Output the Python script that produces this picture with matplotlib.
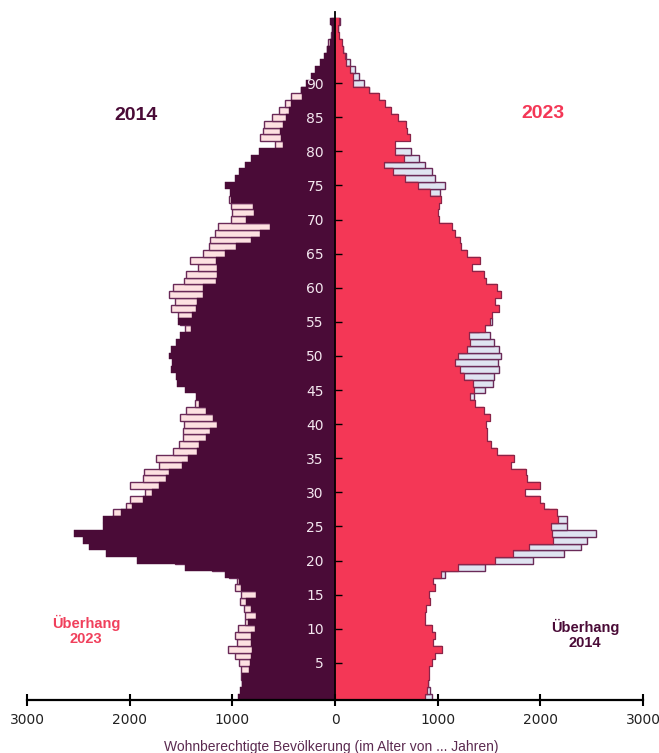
import matplotlib.pyplot as plt
import numpy as np

# Bevoelkerung nach Alter (0..99), 2014 links, 2023 rechts
ages = np.arange(0, 100)

pop_2014 = [
    945, 925, 905, 910, 840, 830, 820, 810, 815, 820,        # 0-9
    780, 850, 770, 820, 870, 765, 915, 935, 1070, 1460,      # 10-19
    1930, 2235, 2400, 2455, 2540, 2260, 2257, 2080, 1977, 1870,  # 20-29
    1778, 1717, 1650, 1618, 1488, 1436, 1344, 1324, 1255, 1214,  # 30-39
    1153, 1190, 1255, 1324, 1351, 1462, 1539, 1550, 1597, 1590,  # 40-49
    1620, 1595, 1546, 1505, 1402, 1529, 1395, 1351, 1340, 1289,  # 50-59
    1289, 1156, 1146, 1146, 1163, 1070, 964, 821, 728, 633,      # 60-69
    865, 793, 797, 1009, 1026, 1070, 975, 940, 880, 821,         # 70-79
    745, 503, 523, 535, 510, 480, 445, 425, 320, 330,            # 80-89
    280, 230, 190, 145, 110, 75, 50, 30, 25, 45,                 # 90-99
]

pop_2023 = [
    872, 900, 905, 915, 920, 940, 970, 1040, 955, 978,           # 0-9
    945, 875, 880, 889, 922, 915, 970, 955, 1033, 1197,          # 10-19
    1556, 1737, 1891, 2120, 2115, 2103, 2171, 2160, 2038, 2000,  # 20-29
    1850, 1998, 1874, 1857, 1710, 1747, 1576, 1518, 1479, 1484,  # 30-39
    1467, 1508, 1453, 1364, 1317, 1351, 1341, 1255, 1214, 1173,  # 40-49
    1197, 1283, 1317, 1310, 1457, 1505, 1525, 1593, 1560, 1620,  # 50-59
    1578, 1467, 1456, 1334, 1415, 1285, 1224, 1222, 1168, 1142,  # 60-69
    1010, 1005, 1014, 1035, 923, 804, 684, 564, 479, 670,        # 70-79
    581, 581, 727, 701, 690, 616, 545, 485, 430, 330,            # 80-89
    175, 180, 150, 105, 100, 80, 65, 35, 25, 35,                 # 90-99
]

y_ticks = list(range(5, 95, 5))
x_ticks = [-3000, -2000, -1000, 0, 1000, 2000, 3000]

c2014 = '#4a0b37'
c2023 = '#f43756'
c_over23 = '#fde1e1'
c_over14 = '#dfe4f1'
c_edge = '#6a2a58'

fig = plt.figure(figsize=(6.59, 7.53), dpi=100)
ax = fig.add_axes([0.041, 0.0699, 0.9347, 0.9147])

v14 = np.array(pop_2014)
v23 = np.array(pop_2023)

# links: Ueberhang 2023 hinter 2014
ax.barh(ages, -v23, height=1.0, color=c_over23, edgecolor=c_edge, linewidth=1.0)
ax.barh(ages, -v14, height=1.0, color=c2014, edgecolor=c2014, linewidth=0.3)
# rechts: Ueberhang 2014 hinter 2023
ax.barh(ages, v14, height=1.0, color=c_over14, edgecolor=c_edge, linewidth=1.0)
ax.barh(ages, v23, height=1.0, color=c2023, edgecolor=c2023, linewidth=0.3)

# dunkle Kante an den Stufen der 2023-Balken
ys = np.repeat(ages, 2) + np.tile([-0.5, 0.5], len(ages))
ax.plot(np.repeat(v23, 2), ys, color='#8a2448', lw=0.9, zorder=1.5)

ax.set_xlim(-3000, 3000)
ax.set_ylim(-0.5, 100.5)

ax.spines['top'].set_visible(False)
ax.spines['right'].set_visible(False)
ax.spines['left'].set_position(('data', 0))
ax.spines['left'].set_linewidth(1.3)
ax.spines['bottom'].set_linewidth(1.6)

ax.set_yticks(y_ticks)
ax.set_yticklabels([str(t) for t in y_ticks])
ax.tick_params(axis='y', direction='in', length=5, width=1, color='black',
               labelcolor='#f3e7ef', labelsize=10, pad=8)

ax.set_xticks(x_ticks)
ax.set_xticklabels([str(abs(t)) for t in x_ticks])
ax.tick_params(axis='x', direction='inout', length=8, width=1.5,
               labelcolor='#222222', labelsize=10, pad=5)

bold = ['Liberation Sans Narrow', 'Liberation Sans', 'DejaVu Sans']
ax.text(-1938, 85.3, '2014', color=c2014, fontsize=14, fontweight='bold',
        family=bold, ha='center', va='center')
ax.text(2026, 85.6, '2023', color=c2023, fontsize=14, fontweight='bold',
        family=bold, ha='center', va='center')
ax.text(-2425, 9.7, 'Überhang\n2023', color='#f0405c', fontsize=10.5, fontweight='bold',
        family=bold, ha='center', va='center', linespacing=1.1)
ax.text(2435, 9.1, 'Überhang\n2014', color=c2014, fontsize=10.5, fontweight='bold',
        family=bold, ha='center', va='center', linespacing=1.1)

fig.text(0.503, 0.008, 'Wohnberechtigte Bevölkerung (im Alter von ... Jahren)',
         ha='center', va='center', color='#5b2a50', fontsize=10,
         family=['Liberation Sans', 'DejaVu Sans'])

fig.savefig('out.png', dpi=100)
